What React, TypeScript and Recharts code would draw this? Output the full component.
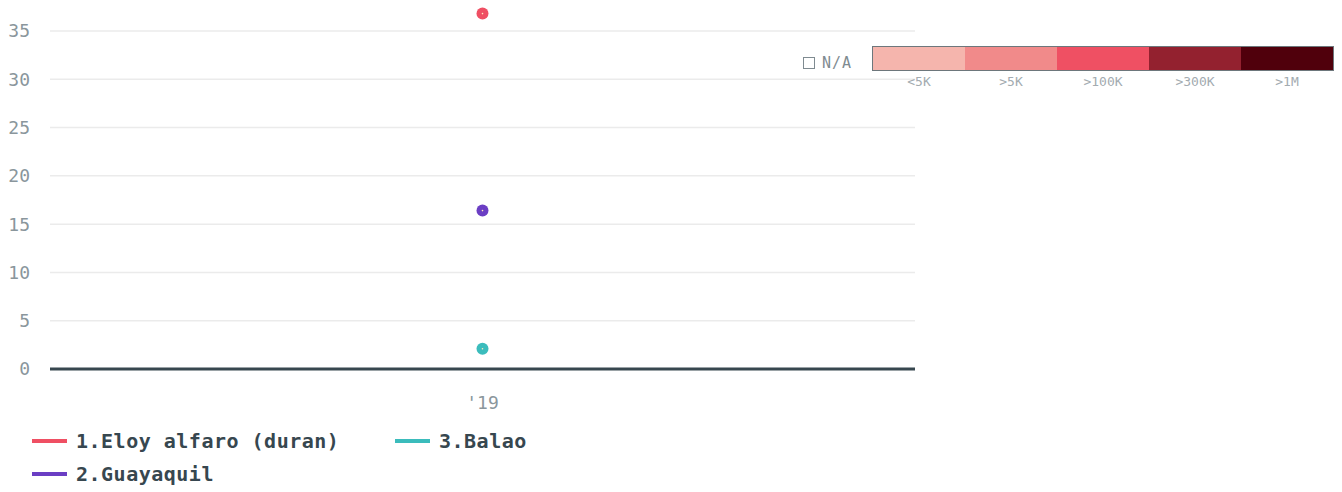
import React from 'react';
import { LineChart, Line, XAxis, YAxis, CartesianGrid } from 'recharts';

const years = ["'19"];
const eloyAlfaro = [36.8];
const guayaquil = [16.4];
const balao = [2.1];
const yTicks = [0, 5, 10, 15, 20, 25, 30, 35];

const series = [
  { key: 'eloy', name: '1.Eloy alfaro (duran)', color: '#ef4f63', values: eloyAlfaro },
  { key: 'guayaquil', name: '2.Guayaquil', color: '#6b3ec4', values: guayaquil },
  { key: 'balao', name: '3.Balao', color: '#3bbcbc', values: balao },
];

const scaleLabels = ['<5K', '>5K', '>100K', '>300K', '>1M'];
const scaleColors = ['#f5b5ad', '#f18a8a', '#ef5063', '#93212f', '#50000c'];

const data = years.map((year, i) => {
  const row: any = { year };
  series.forEach((s) => {
    row[s.key] = s.values[i];
  });
  return row;
});

const FONT = '"DejaVu Sans Mono", "Liberation Mono", monospace';

const Dot = (props: any) => {
  const { cx, cy, stroke } = props;
  if (cx == null || cy == null) return null;
  return (
    <g>
      <circle cx={cx} cy={cy} r={6} fill={stroke} />
      <circle cx={cx} cy={cy} r={0.8} fill="#ffe9c0" />
    </g>
  );
};

// legend is laid out column-wise: 1 and 2 in the first column, 3 in the second
const legendPos = [
  { left: 32, top: 441 },
  { left: 32, top: 474 },
  { left: 395, top: 441 },
];

export default function App() {
  return (
    <div style={{ position: 'absolute', left: 0, top: 0, width: 1342, height: 492, background: '#fff', fontFamily: FONT }}>
      <LineChart width={930} height={419} data={data} margin={{ top: 2, right: 15, left: 0, bottom: 0 }}>
        <CartesianGrid vertical={false} horizontalValues={yTicks} stroke="#ebebeb" strokeWidth={1.5} />
        <XAxis
          dataKey="year"
          height={50}
          tickLine={false}
          tickMargin={21}
          axisLine={{ stroke: '#37474f', strokeWidth: 3 }}
          tick={{ fill: '#8a969c', fontSize: 18, fontFamily: FONT }}
        />
        <YAxis
          width={50}
          domain={[0, 38]}
          ticks={yTicks}
          tickLine={false}
          axisLine={false}
          tickMargin={14}
          tick={{ fill: '#8a969c', fontSize: 18, fontFamily: FONT }}
        />
        {series.map((s) => (
          <Line
            key={s.key}
            dataKey={s.key}
            name={s.name}
            stroke={s.color}
            strokeWidth={3}
            dot={<Dot />}
            activeDot={false}
            isAnimationActive={false}
          />
        ))}
      </LineChart>

      {/* N/A marker */}
      <div style={{ position: 'absolute', left: 803, top: 57, width: 10, height: 10, border: '1.5px solid #7f8b91' }} />
      <div style={{ position: 'absolute', left: 822, top: 54, fontSize: 15, color: '#7f8b91', letterSpacing: 1 }}>N/A</div>

      {/* colour scale */}
      <div style={{ position: 'absolute', left: 872, top: 46, width: 460, height: 23, border: '1px solid #6d777c', display: 'flex' }}>
        {scaleColors.map((c, i) => (
          <div key={i} style={{ flex: 1, background: c }} />
        ))}
      </div>
      <div style={{ position: 'absolute', left: 873, top: 74, width: 460, display: 'flex' }}>
        {scaleLabels.map((l, i) => (
          <div key={i} style={{ flex: 1, textAlign: 'center', fontSize: 13, color: '#a3abb0' }}>{l}</div>
        ))}
      </div>

      {/* legend */}
      {series.map((s, i) => (
        <div
          key={s.key}
          style={{
            position: 'absolute',
            left: legendPos[i].left,
            top: legendPos[i].top - 12,
            height: 24,
            display: 'flex',
            alignItems: 'center',
          }}
        >
          <div style={{ width: 35, height: 4, background: s.color, marginRight: 9 }} />
          <span style={{ fontSize: 20, fontWeight: 'bold', color: '#37474f', whiteSpace: 'nowrap', letterSpacing: 0.5 }}>{s.name}</span>
        </div>
      ))}
    </div>
  );
}
